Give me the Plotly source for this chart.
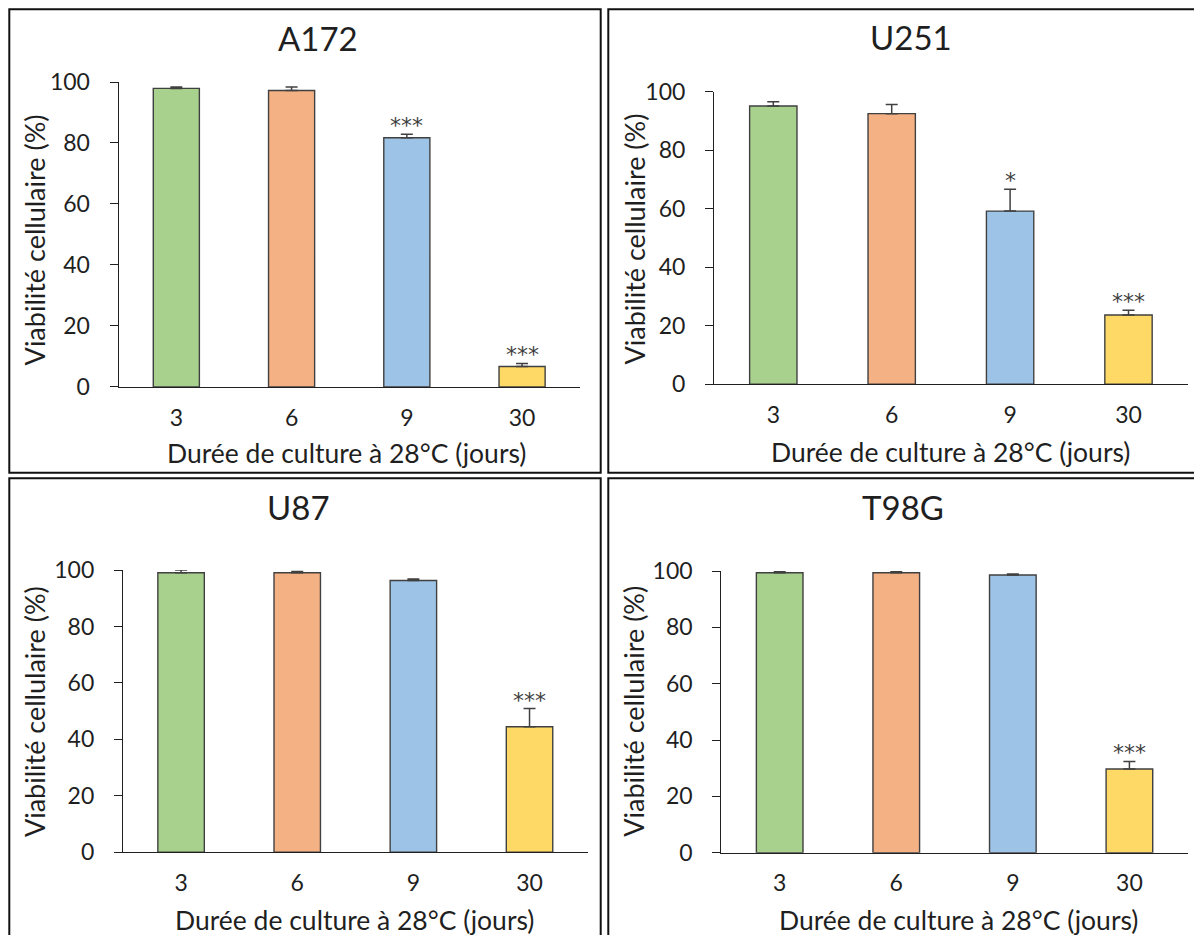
import plotly.graph_objects as go

W, H = 1194, 935

# ---------------- data ----------------
categories = ["3", "6", "9", "30"]
bar_colors = ["#A9D18E", "#F4B183", "#9DC3E6", "#FFD966"]

a172_vals = [97.9, 97.2, 81.7, 6.7]
a172_err = [0.5, 1.2, 1.2, 1.0]
a172_sig = ["", "", "***", "***"]

u251_vals = [95.1, 92.5, 59.2, 23.7]
u251_err = [1.5, 3.1, 7.5, 1.6]
u251_sig = ["", "", "*", "***"]

u87_vals = [99.0, 99.0, 96.3, 44.5]
u87_err = [1.0, 0.5, 0.5, 6.4]
u87_sig = ["", "", "", "***"]

t98g_vals = [99.4, 99.4, 98.6, 29.7]
t98g_err = [0.3, 0.3, 0.3, 2.7]
t98g_sig = ["", "", "", "***"]

y_ticks = [0, 20, 40, 60, 80, 100]
x_title = "Durée de culture à 28°C (jours)"
y_title = "Viabilité cellulaire (%)"

FONT = "Lato"
TXT = "#1f1f1f"
LINE = "#202020"

x_pos = list(range(len(categories)))


def px_x(p):
    return p / W


def px_y(p):
    return 1 - p / H


panels = [
    dict(name="A172", vals=a172_vals, err=a172_err, sig=a172_sig,
         xd=(118.7, 579.7), yd=(386.9, 82.0),
         title=(317.6, 38.3), xt=(346.3, 453.3), yt=(34.4, 240),
         border=(9.3, 9.3, 600.7, 472.7)),
    dict(name="U251", vals=u251_vals, err=u251_err, sig=u251_sig,
         xd=(714.1, 1187.7), yd=(384.3, 91.7),
         title=(910.6, 36.7), xt=(950.0, 451.7), yt=(634.0, 239.5),
         border=(608.3, 9.3, 1200, 472.7)),
    dict(name="U87", vals=u87_vals, err=u87_err, sig=u87_sig,
         xd=(123.0, 587.6), yd=(852.3, 570.0),
         title=(298.5, 506.7), xt=(355.0, 920.0), yt=(34.4, 711.7),
         border=(9.3, 478.3, 600.7, 945)),
    dict(name="T98G", vals=t98g_vals, err=t98g_err, sig=t98g_sig,
         xd=(721.4, 1187.7), yd=(852.7, 571.0),
         title=(903.0, 506.7), xt=(958.5, 920.0), yt=(634.0, 711.7),
         border=(608.3, 478.3, 1200, 945)),
]

fig = go.Figure()
annotations = []
shapes = []
layout_axes = {}

for i, p in enumerate(panels):
    n = "" if i == 0 else str(i + 1)
    xa, ya = "x" + n, "y" + n
    fig.add_trace(go.Bar(
        x=x_pos, y=p["vals"], xaxis=xa, yaxis=ya,
        width=0.4,
        marker=dict(color=bar_colors, line=dict(color="#404040", width=1.4)),
        error_y=dict(type="data", array=p["err"], arrayminus=[0] * len(p["err"]),
                     symmetric=False, color="#404040", thickness=1.5, width=6),
        cliponaxis=False, showlegend=False,
        customdata=categories, hovertemplate="%{customdata}: %{y}<extra></extra>",
    ))
    layout_axes["xaxis" + n] = dict(
        domain=[px_x(p["xd"][0]), px_x(p["xd"][1])], anchor=ya,
        range=[-0.5, len(categories) - 0.5], tickvals=x_pos, ticktext=categories,
        showline=True, linecolor=LINE, automargin=False,
        linewidth=1.3, ticks="", showgrid=False, zeroline=False,
        tickfont=dict(family=FONT, size=23, color=TXT), ticklabelstandoff=10,
        fixedrange=True,
    )
    layout_axes["yaxis" + n] = dict(
        domain=[px_y(p["yd"][0]), px_y(p["yd"][1])], anchor=xa,
        range=[0, 100], tickvals=y_ticks, showline=True, linecolor=LINE,
        automargin=False,
        linewidth=1.3, ticks="outside", ticklen=8, tickcolor=LINE, tickwidth=1.3,
        showgrid=False, zeroline=False,
        tickfont=dict(family=FONT, size=23, color=TXT), ticklabelstandoff=15,
        fixedrange=True,
    )
    # significance marks
    for xp, v, e, s in zip(x_pos, p["vals"], p["err"], p["sig"]):
        if s:
            annotations.append(dict(
                x=xp, y=v + e, xref=xa, yref=ya, text=s, showarrow=False,
                yanchor="bottom", yshift=-6,
                font=dict(family="DejaVu Sans", size=22, color="#404040")))
    # titles
    annotations.append(dict(x=px_x(p["title"][0]), y=px_y(p["title"][1]),
                            xref="paper", yref="paper", text=p["name"],
                            showarrow=False, xanchor="center", yanchor="middle",
                            font=dict(family=FONT, size=33, color=TXT)))
    annotations.append(dict(x=px_x(p["xt"][0]), y=px_y(p["xt"][1]),
                            xref="paper", yref="paper", text=x_title,
                            showarrow=False, xanchor="center", yanchor="middle",
                            font=dict(family=FONT, size=26.5, color=TXT)))
    annotations.append(dict(x=px_x(p["yt"][0]), y=px_y(p["yt"][1]),
                            xref="paper", yref="paper", text=y_title,
                            showarrow=False, xanchor="center", yanchor="middle",
                            textangle=-90,
                            font=dict(family=FONT, size=27, color=TXT)))
    b = p["border"]
    shapes.append(dict(type="rect", xref="paper", yref="paper",
                       x0=px_x(b[0]), x1=px_x(b[2]), y0=px_y(b[3]), y1=px_y(b[1]),
                       line=dict(color="#111111", width=2)))

fig.update_layout(
    template="none",
    width=W, height=H, margin=dict(l=0, r=0, t=0, b=0, pad=0),
    paper_bgcolor="white", plot_bgcolor="white",
    annotations=annotations, shapes=shapes, bargap=0.6,
    **layout_axes,
)

fig.write_html("out.html", config={"displayModeBar": False},
               post_script="document.body.style.margin='0';document.body.style.overflow='hidden';")
